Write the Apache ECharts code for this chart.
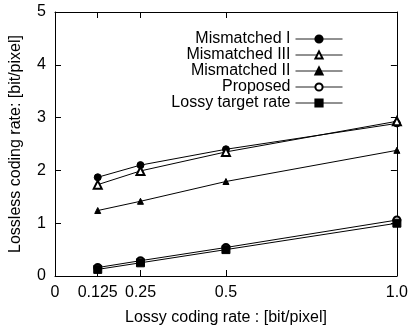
<!DOCTYPE html>
<html>
<head>
<meta charset="utf-8">
<script src="https://cdn.jsdelivr.net/npm/echarts@6/dist/echarts.min.js"></script>
<style>html,body{margin:0;padding:0;background:#fff}#c{width:411px;height:331px}</style>
</head>
<body>
<div id="c"></div>
<script>
var xValues = [0.125, 0.25, 0.5, 1.0];
var xTickValues = [0, 0.125, 0.25, 0.5, 1.0];
var seriesNames = ['Mismatched I', 'Mismatched III', 'Mismatched II', 'Proposed', 'Lossy target rate'];
var mismatchedI = [1.87, 2.10, 2.40, 2.89];
var mismatchedIII = [1.73, 1.99, 2.35, 2.93];
var mismatchedII = [1.24, 1.415, 1.79, 2.38];
var proposed = [0.16, 0.29, 0.54, 1.06];
var lossyTarget = [0.125, 0.25, 0.5, 1.0];

var FONT = 'Liberation Sans, Arial, Helvetica, sans-serif';
function pairs(ys){ return xValues.map(function(x,i){ return [x, ys[i]]; }); }
function fmtX(v){ return v === 1 ? '1.0' : String(v); }

function mkSeries(name, ys, symbol, size){
  return {
    name: name, type: 'line', data: pairs(ys),
    symbol: symbol, symbolSize: size, showSymbol: true,
    lineStyle: {color: '#000', width: 1},
    itemStyle: {color: '#000', borderColor: '#000', borderWidth: 1},
    emphasis: {disabled: true}, animation: false
  };
}

var chart = echarts.init(document.getElementById('c'), null, {renderer: 'canvas'});
chart.setOption({
  backgroundColor: '#fff',
  animation: false,
  textStyle: {fontFamily: FONT},
  grid: {left: 53, right: 11, top: 12, bottom: 55, containLabel: false},
  legend: {
    orient: 'vertical', align: 'right',
    right: 63, top: 26,
    itemWidth: 47, itemHeight: 9, itemGap: 0,
    textStyle: {fontFamily: FONT, fontSize: 16, color: '#000', lineHeight: 16},
    lineStyle: {width: 1, color: '#222'},
    data: seriesNames,
    selectedMode: false
  },
  xAxis: [{
    type: 'value', min: 0, max: 1, position: 'bottom',
    name: 'Lossy coding rate : [bit/pixel]', nameLocation: 'middle', nameGap: 34,
    nameTextStyle: {fontFamily: FONT, fontSize: 16, color: '#000'},
    axisLine: {show: true, onZero: false, lineStyle: {color: '#000', width: 1}},
    axisTick: {show: true, inside: true, length: 6, customValues: xTickValues, lineStyle: {color: '#000'}},
    axisLabel: {show: true, customValues: xTickValues, formatter: fmtX, margin: 9, fontFamily: FONT, fontSize: 16, color: '#000'},
    splitLine: {show: false}
  }, {
    type: 'value', min: 0, max: 1, position: 'top',
    axisLine: {show: true, onZero: false, lineStyle: {color: '#000', width: 1}},
    axisTick: {show: true, inside: true, length: 6, customValues: xTickValues, lineStyle: {color: '#000'}},
    axisLabel: {show: false},
    splitLine: {show: false}
  }],
  yAxis: [{
    type: 'value', min: 0, max: 5, interval: 1, position: 'left',
    name: 'Lossless coding rate: [bit/pixel]', nameLocation: 'middle', nameGap: 31,
    nameTextStyle: {fontFamily: FONT, fontSize: 16, color: '#000'},
    axisLine: {show: true, onZero: false, lineStyle: {color: '#000', width: 1}},
    axisTick: {show: true, inside: true, length: 6, lineStyle: {color: '#000'}},
    axisLabel: {show: true, margin: 9, fontFamily: FONT, fontSize: 16, color: '#000'},
    splitLine: {show: false}
  }, {
    type: 'value', min: 0, max: 5, interval: 1, position: 'right',
    axisLine: {show: true, onZero: false, lineStyle: {color: '#000', width: 1}},
    axisTick: {show: true, inside: true, length: 6, lineStyle: {color: '#000'}},
    axisLabel: {show: false},
    splitLine: {show: false}
  }],
  series: [
    mkSeries(seriesNames[0], mismatchedI, 'circle', 7),
    mkSeries(seriesNames[1], mismatchedIII, 'emptyTriangle', 8),
    mkSeries(seriesNames[2], mismatchedII, 'triangle', 6),
    mkSeries(seriesNames[3], proposed, 'emptyCircle', 7),
    mkSeries(seriesNames[4], lossyTarget, 'rect', 8)
  ]
});
</script>
</body>
</html>
